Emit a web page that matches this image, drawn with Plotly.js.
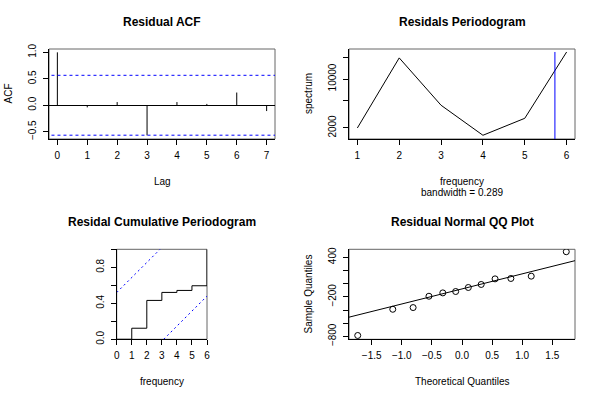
<!DOCTYPE html>
<html>
<head>
<meta charset="utf-8">
<script src="https://cdn.plot.ly/plotly-3.0.1.min.js"></script>
<style>html,body{margin:0;padding:0;background:#fff}#chart{width:600px;height:400px}</style>
</head>
<body>
<div id="chart"></div>
<script>
// ---- data ----
const acfLags = [0, 1, 2, 3, 4, 5, 6, 7];
const acfValues = [1.0, -0.04, 0.06, -0.57, 0.06, 0.025, 0.24, -0.11];
const acfCI = 0.566;

const pgFreq = [1, 2, 3, 4, 5, 6];
const pgSpec = [2000, 20000, 4220, 1575, 2750, 24300];
const pgCIx = 5.72;
const pgBandwidth = "bandwidth = 0.289";

const cpFreq = [0, 1, 2, 3, 4, 5, 6];
const cpCum = [0, 0.123, 0.432, 0.521, 0.543, 0.595, 1.0];
const cpCrit = 0.52;

const qqTheo = [-1.732, -1.150, -0.812, -0.549, -0.319, -0.105, 0.105, 0.319, 0.549, 0.812, 1.150, 1.732];
const qqSample = [-787, -389, -363, -191, -140, -119, -58, -12, 73, 79, 114, 485];

const acfTickVals = [-0.5, 0, 0.5, 1];
const acfTickText = ["\u22120.5", "0.0", "0.5", "1.0"];
const pgTickVals = [2000, 5000, 10000, 20000];
const pgTickText = ["2000", "", "10000", ""];
const cpTickVals = [0, 0.2, 0.4, 0.6, 0.8, 1.0];
const cpTickText = ["0.0", "", "0.4", "", "0.8", ""];
const qqXTickVals = [-1.5, -1, -0.5, 0, 0.5, 1, 1.5];
const qqXTickText = ["\u22121.5", "\u22121.0", "\u22120.5", "0.0", "0.5", "1.0", "1.5"];
const qqYTickVals = [-800, -600, -400, -200, 0, 200, 400];
const qqYTickText = ["\u2212800", "", "", "\u2212200", "", "", "400"];

// ---- derived ----
const acfX = [], acfY = [];
acfLags.forEach((l, i) => { acfX.push(l, l, null); acfY.push(0, acfValues[i], null); });

function quantile7(arr, p) {
  const s = arr.slice().sort((a, b) => a - b);
  const h = (s.length - 1) * p, lo = Math.floor(h);
  return s[lo] + (h - lo) * ((s[lo + 1] !== undefined ? s[lo + 1] : s[lo]) - s[lo]);
}
const q1 = quantile7(qqSample, 0.25), q3 = quantile7(qqSample, 0.75);
const zq = 0.6744898;
const qqSlope = (q3 - q1) / (2 * zq);
const qqInt = q1 + zq * qqSlope;
const qqLineX = [-3, 3];
const qqLineY = qqLineX.map(x => qqInt + qqSlope * x);

const BLACK = "#000000", BLUE = "#0000ff";
const FONT = "Liberation Sans, Arial, Helvetica, sans-serif";

const traces = [
  // ACF
  {x: acfX, y: acfY, xaxis: "x", yaxis: "y", mode: "lines", line: {color: BLACK, width: 1}, hoverinfo: "skip"},
  {x: [-1, 8], y: [acfCI, acfCI], xaxis: "x", yaxis: "y", mode: "lines", line: {color: BLUE, width: 1, dash: "3px,3px"}},
  {x: [-1, 8], y: [-acfCI, -acfCI], xaxis: "x", yaxis: "y", mode: "lines", line: {color: BLUE, width: 1, dash: "3px,3px"}},
  // Periodogram
  {x: pgFreq, y: pgSpec, xaxis: "x2", yaxis: "y2", mode: "lines", line: {color: BLACK, width: 1}},
  {x: [pgCIx, pgCIx], y: [Math.max(...pgSpec), 500], xaxis: "x2", yaxis: "y2", mode: "lines", line: {color: BLUE, width: 1}},
  // Cumulative periodogram
  {x: cpFreq, y: cpCum, xaxis: "x3", yaxis: "y3", mode: "lines", line: {color: BLACK, width: 1, shape: "hv"}},
  {x: [0, 6 * (1 - cpCrit)], y: [cpCrit, 1], xaxis: "x3", yaxis: "y3", mode: "lines", line: {color: BLUE, width: 1, dash: "2px,3px"}},
  {x: [6 * cpCrit, 6], y: [0, 1 - cpCrit], xaxis: "x3", yaxis: "y3", mode: "lines", line: {color: BLUE, width: 1, dash: "2px,3px"}},
  // QQ
  {x: qqTheo, y: qqSample, xaxis: "x4", yaxis: "y4", mode: "markers", marker: {symbol: "circle-open", size: 6, color: BLACK, line: {width: 1, color: BLACK}}},
  {x: qqLineX, y: qqLineY, xaxis: "x4", yaxis: "y4", mode: "lines", line: {color: BLACK, width: 1}}
];

function ax(extra) {
  return Object.assign({
    showgrid: false, zeroline: false, showline: true, linecolor: BLACK, linewidth: 1,
    ticks: "outside", ticklen: 5, tickwidth: 1, tickcolor: BLACK,
    tickfont: {family: FONT, size: 10, color: BLACK}, fixedrange: true
  }, extra);
}
function xax(extra) { return ax(Object.assign({ticklabelstandoff: 2}, extra)); }
function yax(extra) { return ax(Object.assign({ticklabelstandoff: 3, tickangle: -90}, extra)); }

const X1 = [49 / 600, 275 / 600], X2 = [349 / 600, 575 / 600], X3 = [116.7 / 600, 207 / 600];
const Ytop = [1 - 139 / 400, 1 - 49 / 400], Ybot = [1 - 339.3 / 400, 1 - 249.3 / 400];

function boxShape(xr, yr) {
  return {type: "rect", xref: "paper", yref: "paper", x0: xr[0], x1: xr[1], y0: yr[0], y1: yr[1],
          line: {color: "#666666", width: 1}, layer: "below"};
}

function ann(text, x, y, opts) {
  return Object.assign({text: text, x: x / 600, y: 1 - y / 400, xref: "paper", yref: "paper",
    showarrow: false, xanchor: "center", yanchor: "middle",
    font: {family: FONT, size: 10, color: BLACK}}, opts || {});
}
const titleFont = {family: FONT, size: 12, color: BLACK, weight: "bold"};

const layout = {
  width: 600, height: 400, margin: {l: 0, r: 0, t: 0, b: 0},
  paper_bgcolor: "#ffffff", plot_bgcolor: "rgba(0,0,0,0)", showlegend: false,
  font: {family: FONT, size: 10, color: BLACK},
  xaxis: xax({domain: X1, anchor: "y", range: [-0.28, 7.28], tickvals: acfLags, ticktext: acfLags.map(String)}),
  yaxis: yax({domain: Ytop, anchor: "x", range: [-0.638, 1.063], tickvals: acfTickVals, ticktext: acfTickText,
             zeroline: true, zerolinecolor: BLACK, zerolinewidth: 1}),
  xaxis2: xax({domain: X2, anchor: "y2", range: [0.8, 6.2], tickvals: pgFreq, ticktext: pgFreq.map(String)}),
  yaxis2: yax({domain: Ytop, anchor: "x2", type: "log", range: [3.144, 4.428], tickvals: pgTickVals, ticktext: pgTickText}),
  xaxis3: xax({domain: X3, anchor: "y3", range: [0, 6], tickvals: cpFreq, ticktext: cpFreq.map(String)}),
  yaxis3: yax({domain: Ybot, anchor: "x3", range: [0, 1], tickvals: cpTickVals, ticktext: cpTickText}),
  xaxis4: xax({domain: X2, anchor: "y4", range: [-1.877, 1.877], tickvals: qqXTickVals, ticktext: qqXTickText}),
  yaxis4: yax({domain: Ybot, anchor: "x4", range: [-845, 522], tickvals: qqYTickVals, ticktext: qqYTickText}),
  shapes: [boxShape(X1, Ytop), boxShape(X2, Ytop), boxShape(X3, Ybot), boxShape(X2, Ybot)],
  annotations: [
    ann("Residual ACF", 162, 22, {font: titleFont}),
    ann("Residals Periodogram", 462, 22, {font: titleFont}),
    ann("Residal Cumulative Periodogram", 162, 222, {font: titleFont}),
    ann("Residual Normal QQ Plot", 462, 222, {font: titleFont}),
    ann("Lag", 162, 181),
    ann("frequency", 462, 181),
    ann(pgBandwidth, 462, 192.7),
    ann("frequency", 162, 381),
    ann("Theoretical Quantiles", 462, 381),
    ann("ACF", 7.5, 94, {textangle: -90}),
    ann("spectrum", 308, 94, {textangle: -90}),
    ann("Sample Quantiles", 307.5, 294, {textangle: -90})
  ]
};

Plotly.newPlot("chart", traces, layout, {staticPlot: true, displayModeBar: false});
</script>
</body>
</html>
